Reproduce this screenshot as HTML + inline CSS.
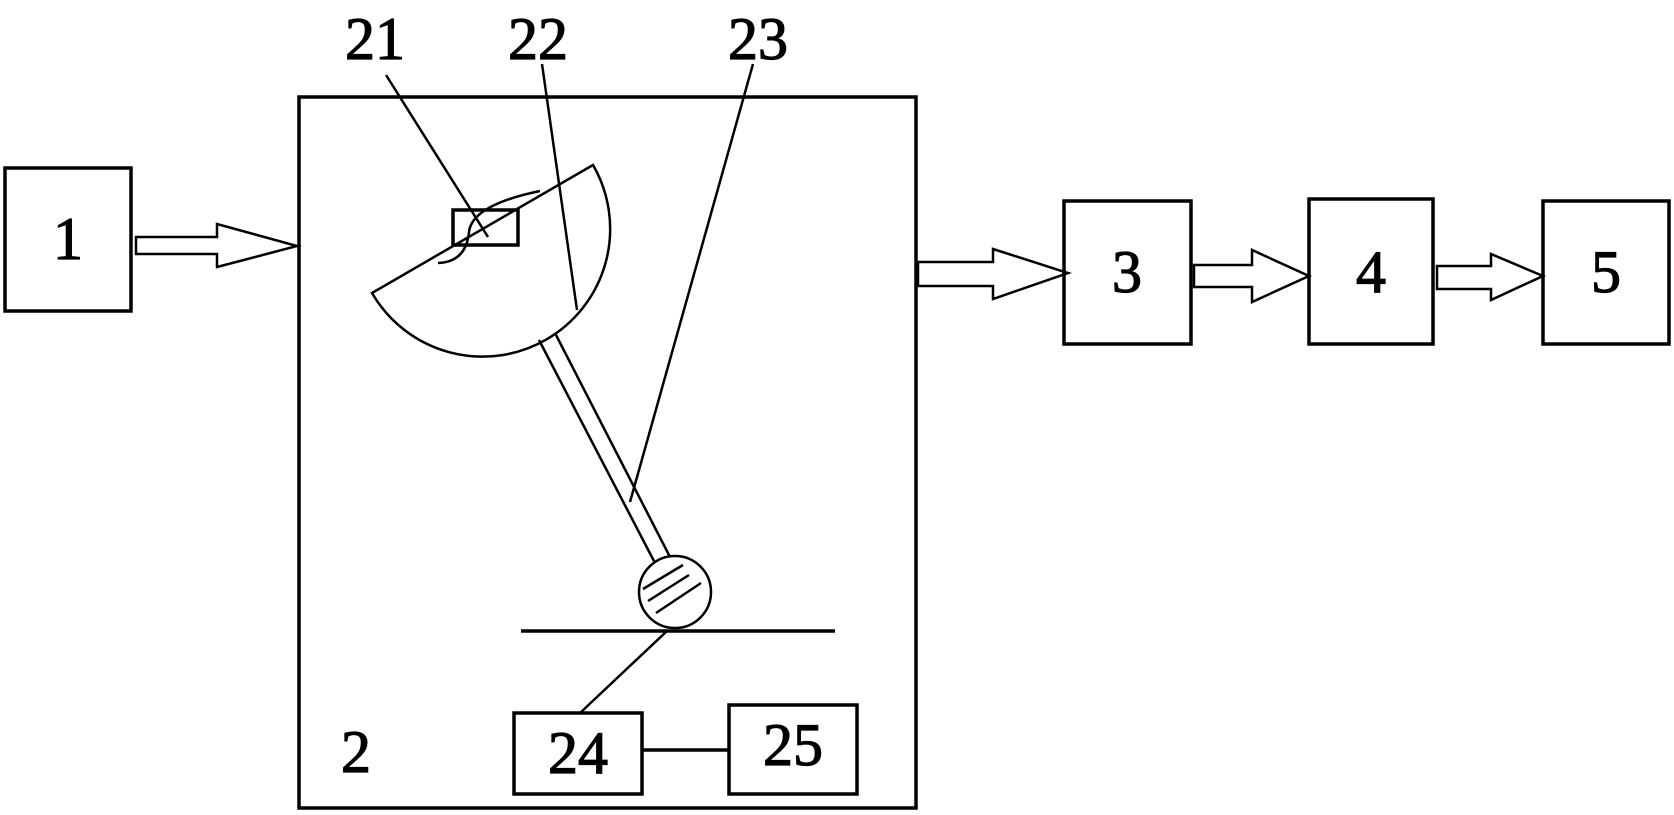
<!DOCTYPE html>
<html><head><style>
html,body{margin:0;padding:0;background:#fff;}
svg{display:block;}
text{font-family:"Liberation Serif",serif;font-weight:normal;font-size:60px;fill:#000;stroke:#000;stroke-width:1.2px;}
</style></head><body>
<svg width="1674" height="815" viewBox="0 0 1674 815" xmlns="http://www.w3.org/2000/svg">
<g fill="none" stroke="#000" stroke-width="3.5">
<rect x="5" y="168" width="126" height="143"/>
<rect x="299" y="97" width="617" height="711"/>
<rect x="1064" y="201" width="127" height="143"/>
<rect x="1309" y="199" width="124" height="145"/>
<rect x="1543" y="201" width="126" height="143"/>
<rect x="514" y="713" width="128" height="81"/>
<rect x="729" y="705" width="128" height="89"/>
<line x1="642" y1="750" x2="729" y2="750"/>
<line x1="521" y1="631" x2="835" y2="631"/>
</g>
<g fill="none" stroke="#000" stroke-width="2.5">
<path d="M136,237 H217 V224 L297,246 L217,267 V254 H136 Z"/>
<path d="M918,262 H993 V249 L1068,273 L993,299 V286 H918 Z"/>
<path d="M1194,265 H1252 V250 L1309,276 L1252,302 V287 H1194 Z"/>
<path d="M1437,266 H1491 V254 L1543,276 L1491,300 V289 H1437 Z"/>
<path d="M372,293 L593,165 A127,127 0 0 1 372,293 Z"/>
<rect x="453" y="210" width="65" height="35" stroke-width="3.5"/>
<path d="M540,191 Q472,205 469,232 Q466,262 438,263"/>
<line x1="539" y1="340" x2="655" y2="563"/>
<line x1="555" y1="333" x2="670" y2="557"/>
<circle cx="675" cy="592" r="36"/>
<line x1="643" y1="589" x2="683" y2="565"/>
<line x1="648" y1="601" x2="689" y2="575"/>
<line x1="656" y1="613" x2="701" y2="583"/>
<line x1="667" y1="631" x2="580" y2="713"/>
<line x1="386" y1="75" x2="488" y2="237"/>
<line x1="542" y1="64" x2="577" y2="310"/>
<line x1="753" y1="64" x2="630" y2="502"/>
</g>
<g text-anchor="middle">
<text x="375" y="59">21</text>
<text x="538" y="59">22</text>
<text x="758" y="59">23</text>
<text x="68" y="259">1</text>
<text x="356" y="772">2</text>
<text x="1127" y="292">3</text>
<text x="1371" y="292">4</text>
<text x="1606" y="292">5</text>
<text x="578" y="773">24</text>
<text x="793" y="765">25</text>
</g>
</svg>
</body></html>
